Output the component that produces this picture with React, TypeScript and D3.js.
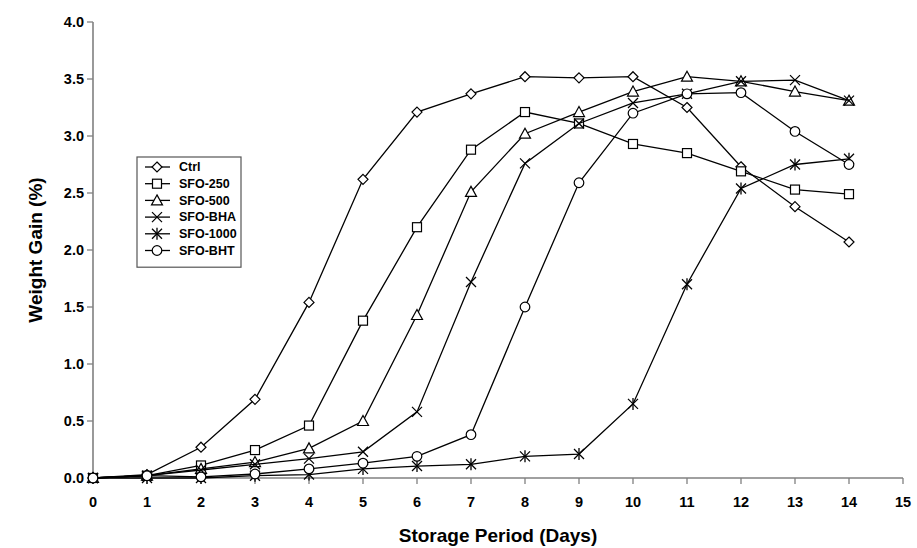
import React from 'react';
import { scaleLinear, line, range } from 'd3';

const width = 917;
const height = 548;

const days = range(0, 15); // 0..14
const xTicks = range(0, 16);
const yTicks = [0, 0.5, 1, 1.5, 2, 2.5, 3, 3.5, 4];

const ctrl = [0, 0.03, 0.27, 0.69, 1.54, 2.62, 3.21, 3.37, 3.52, 3.51, 3.52, 3.25, 2.73, 2.38, 2.07];
const sfo250 = [0, 0.02, 0.11, 0.245, 0.46, 1.38, 2.2, 2.88, 3.21, 3.11, 2.93, 2.85, 2.69, 2.53, 2.49];
const sfo500 = [0, 0.02, 0.08, 0.14, 0.26, 0.5, 1.43, 2.51, 3.02, 3.21, 3.39, 3.52, 3.48, 3.39, 3.31];
const sfoBHA = [0, 0.02, 0.07, 0.12, 0.17, 0.23, 0.58, 1.72, 2.76, 3.11, 3.29, 3.37, 3.48, 3.49, 3.31];
const sfo1000 = [0, 0.0, 0.0, 0.02, 0.03, 0.08, 0.105, 0.12, 0.19, 0.21, 0.65, 1.7, 2.54, 2.75, 2.8];
const sfoBHT = [0, 0.02, 0.01, 0.035, 0.08, 0.13, 0.19, 0.38, 1.5, 2.59, 3.2, 3.37, 3.38, 3.04, 2.75];

const seriesNames = ['Ctrl', 'SFO-250', 'SFO-500', 'SFO-BHA', 'SFO-1000', 'SFO-BHT'];
const seriesValues = [ctrl, sfo250, sfo500, sfoBHA, sfo1000, sfoBHT];
const shapes = ['diamond', 'square', 'triangle', 'x', 'asterisk', 'circle'];

const Marker = ({ shape, x, y }: { shape: string; x: number; y: number }) => {
  const st = { fill: '#fff', stroke: '#000', strokeWidth: 1.2 };
  if (shape === 'diamond') {
    const r = 5;
    return <path d={`M${x},${y - r}L${x + r},${y}L${x},${y + r}L${x - r},${y}Z`} {...st} />;
  }
  if (shape === 'square') {
    return <rect x={x - 4.5} y={y - 4.5} width={9} height={9} {...st} />;
  }
  if (shape === 'triangle') {
    return <path d={`M${x},${y - 5.5}L${x + 5.5},${y + 4.5}L${x - 5.5},${y + 4.5}Z`} {...st} />;
  }
  if (shape === 'circle') {
    return <circle cx={x} cy={y} r={4.8} {...st} />;
  }
  const r = 5;
  return (
    <g stroke="#000" strokeWidth={1.3}>
      <line x1={x - r} y1={y - r} x2={x + r} y2={y + r} />
      <line x1={x - r} y1={y + r} x2={x + r} y2={y - r} />
      {shape === 'asterisk' && <line x1={x} y1={y - 6} x2={x} y2={y + 6} />}
    </g>
  );
};

const App = () => {
  const xScale = scaleLinear().domain([0, 15]).range([93, 903]);
  const yScale = scaleLinear().domain([0, 4]).range([478, 22]);

  const lineGen = line<number>()
    .x((d, i) => xScale(days[i]))
    .y(d => yScale(d));

  const font = '"Liberation Sans", Arial, sans-serif';
  const axisColor = '#808080';

  // legend placement
  const lgX = 137;
  const lgY = 157;
  const lgRow = 16.7;

  return (
    <svg width={width} height={height} style={{ position: 'absolute', left: 0, top: 0, background: '#fff' }} fontFamily={font}>
      {/* axes */}
      <line x1={xScale(0)} x2={xScale(0)} y1={yScale(4)} y2={yScale(0)} stroke={axisColor} strokeWidth={1.6} />
      <line x1={xScale(0)} x2={xScale(15)} y1={yScale(0)} y2={yScale(0)} stroke={axisColor} strokeWidth={1.6} />
      {yTicks.map(t => (
        <g key={'y' + t}>
          <line x1={xScale(0) - 6} x2={xScale(0)} y1={yScale(t)} y2={yScale(t)} stroke={axisColor} strokeWidth={1.3} />
          <text x={xScale(0) - 9} y={yScale(t)} dy="0.35em" textAnchor="end" fontSize={14.5} fontWeight="bold">
            {t.toFixed(1)}
          </text>
        </g>
      ))}
      {xTicks.map(t => (
        <g key={'x' + t}>
          <line x1={xScale(t)} x2={xScale(t)} y1={yScale(0)} y2={yScale(0) + 6} stroke={axisColor} strokeWidth={1.3} />
          <text x={xScale(t)} y={yScale(0) + 24} dy="0.35em" textAnchor="middle" fontSize={14.5} fontWeight="bold">
            {t}
          </text>
        </g>
      ))}
      <text x={(xScale(0) + xScale(15)) / 2} y={535} dy="0.35em" textAnchor="middle" fontSize={19} fontWeight="bold">
        Storage Period (Days)
      </text>
      <text
        transform={`translate(35,${(yScale(0) + yScale(4)) / 2}) rotate(-90)`}
        dy="0.35em"
        textAnchor="middle"
        fontSize={19}
        fontWeight="bold"
      >
        Weight Gain (%)
      </text>

      {/* series */}
      {seriesValues.map((vals, si) => (
        <g key={seriesNames[si]}>
          <path d={lineGen(vals) || ''} fill="none" stroke="#000" strokeWidth={1.3} />
          {vals.map((v, i) => (
            <Marker key={i} shape={shapes[si]} x={xScale(days[i])} y={yScale(v)} />
          ))}
        </g>
      ))}

      {/* legend */}
      <rect x={lgX} y={lgY} width={104} height={lgRow * 6 + 10} fill="#fff" stroke="#555" strokeWidth={1.2} />
      {seriesNames.map((name, i) => {
        const cy = lgY + 10 + i * lgRow;
        return (
          <g key={'lg' + name}>
            <line x1={lgX + 8} x2={lgX + 33} y1={cy} y2={cy} stroke="#000" strokeWidth={1.3} />
            <Marker shape={shapes[i]} x={lgX + 20} y={cy} />
            <text x={lgX + 42} y={cy} dy="0.35em" fontSize={12.5} fontWeight="bold">
              {name}
            </text>
          </g>
        );
      })}
    </svg>
  );
};

export default App;
